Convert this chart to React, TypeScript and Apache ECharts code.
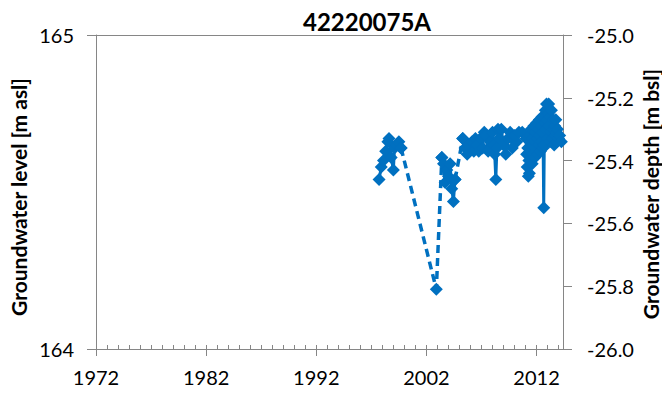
import React, { useEffect, useRef } from "react";
import * as echarts from "echarts";

const TITLE = "42220075A";
const LEFT_NAME = "Groundwater level [m asl]";
const RIGHT_NAME = "Groundwater depth [m bsl]";
const BLUE = "#0070C0";
const AXIS_GRAY = "#868686";

const majorYearTicks = [1972, 1982, 1992, 2002, 2012];
const minorYearTicks = [
  1972, 1973, 1974, 1975, 1976, 1977, 1978, 1979, 1980, 1981, 1982, 1983, 1984, 1985,
  1986, 1987, 1988, 1989, 1990, 1991, 1992, 1993, 1994, 1995, 1996, 1997, 1998, 1999,
  2000, 2001, 2002, 2003, 2004, 2005, 2006, 2007, 2008, 2009, 2010, 2011, 2012, 2013, 2014,
];

// Measurement clusters (decimal year, depth m bsl)
const cluster1Years = [1997.7, 1997.9, 1998.1, 1998.3, 1998.5, 1998.6, 1998.8, 1999.0, 1999.1, 1999.3, 1999.5, 1999.7];
const cluster1Depths = [-25.46, -25.42, -25.4, -25.37, -25.34, -25.33, -25.39, -25.43, -25.36, -25.35, -25.34, -25.36];

const cluster2Years = [2003.4, 2003.55, 2003.7, 2003.85, 2004.0, 2004.15, 2004.3, 2004.45, 2004.6];
const cluster2Depths = [-25.39, -25.41, -25.47, -25.43, -25.45, -25.41, -25.49, -25.53, -25.46];

const cluster3Years = [
  2005.3, 2005.5, 2005.7, 2005.85, 2006.0, 2006.15, 2006.3, 2006.45, 2006.6, 2006.75, 2006.9,
  2007.1, 2007.25, 2007.4, 2007.6, 2007.8, 2008.0, 2008.1,
  2008.2, 2008.3, 2008.4, 2008.5, 2008.6, 2008.8, 2009.0, 2009.2, 2009.4, 2009.6, 2009.8, 2010.0, 2010.2,
  2010.4, 2010.7,
  2011.05, 2011.1, 2011.15, 2011.2, 2011.25, 2011.3, 2011.35, 2011.4, 2011.45, 2011.5, 2011.55,
  2011.6, 2011.65, 2011.7, 2011.75, 2011.8, 2011.85, 2011.9, 2011.95, 2012.0, 2012.05, 2012.1,
  2012.15, 2012.2, 2012.25, 2012.3, 2012.35, 2012.4, 2012.45, 2012.5, 2012.55, 2012.6, 2012.65,
  2012.7, 2012.75, 2012.8, 2012.85, 2012.9, 2012.95, 2013.0, 2013.05, 2013.1, 2013.15, 2013.2,
  2013.25, 2013.3, 2013.35, 2013.4, 2013.45, 2013.5, 2013.55, 2013.6, 2013.65, 2013.7, 2013.75,
  2013.8, 2013.85, 2013.9, 2014.0, 2014.1, 2014.25,
];
const cluster3Depths = [
  -25.33, -25.36, -25.38, -25.35, -25.36, -25.34, -25.37, -25.33, -25.35, -25.37, -25.33,
  -25.36, -25.31, -25.32, -25.37, -25.34, -25.31, -25.35,
  -25.38, -25.46, -25.36, -25.3, -25.33, -25.3, -25.35, -25.38, -25.33, -25.31, -25.36, -25.32, -25.34,
  -25.31, -25.31,
  -25.33, -25.38, -25.42, -25.36, -25.45, -25.4, -25.44, -25.32, -25.37, -25.3, -25.35,
  -25.41, -25.33, -25.38, -25.29, -25.34, -25.39, -25.31, -25.36, -25.28, -25.33, -25.38,
  -25.3, -25.35, -25.27, -25.32, -25.37, -25.29, -25.34, -25.26, -25.31, -25.36, -25.55,
  -25.35, -25.28, -25.24, -25.3, -25.22, -25.27, -25.33, -25.25, -25.22, -25.29, -25.34,
  -25.26, -25.31, -25.24, -25.28, -25.33, -25.27, -25.3, -25.35, -25.29, -25.32, -25.27,
  -25.31, -25.34, -25.3, -25.33, -25.32, -25.34,
];

// Dashed connectors across long gaps
const gap1Years = [1999.7, 2002.9, 2003.4];
const gap1Depths = [-25.36, -25.81, -25.39];
const gap2Years = [2004.6, 2005.3];
const gap2Depths = [-25.46, -25.33];

const FONT = "Lato, 'Open Sans', sans-serif";

function pairs(xs: number[], ys: number[]) {
  return xs.map((x, i) => [x, ys[i]]);
}

export default function App() {
  const ref = useRef<HTMLDivElement>(null);
  useEffect(() => {
    if (!ref.current) return;
    const chart = echarts.init(ref.current, null, { renderer: "svg" });
    const solid = (xs: number[], ys: number[]) => ({
      type: "line",
      xAxisIndex: 0,
      yAxisIndex: 1,
      data: pairs(xs, ys),
      symbol: "diamond",
      symbolSize: 13,
      lineStyle: { color: BLUE, width: 3 },
      itemStyle: { color: BLUE },
      z: 3,
    });
    const dashed = (xs: number[], ys: number[]) => ({
      type: "line",
      xAxisIndex: 0,
      yAxisIndex: 1,
      data: pairs(xs, ys),
      symbol: "diamond",
      symbolSize: 13,
      lineStyle: { color: BLUE, width: 3.5, type: [8, 5] },
      itemStyle: { color: BLUE },
      z: 2,
    });
    chart.setOption({
      animation: false,
      backgroundColor: "#ffffff",
      title: {
        text: TITLE,
        left: 362,
        top: 4,
        textAlign: "center",
        textStyle: { fontFamily: FONT, fontWeight: "bold", fontSize: 24, color: "#000" },
      },
      grid: { left: 96, right: 99, top: 35, bottom: 50 },
      xAxis: [
        {
          type: "value",
          min: 1972,
          max: 2014.4,
          position: "bottom",
          axisLine: { show: true, lineStyle: { color: AXIS_GRAY, width: 1 } },
          axisTick: { show: true, inside: false, length: 7, lineStyle: { color: AXIS_GRAY }, customValues: majorYearTicks },
          axisLabel: {
            customValues: majorYearTicks,
            margin: 18,
            fontFamily: FONT,
            fontSize: 20,
            color: "#000",
            formatter: (v: number) => String(v),
          },
          splitLine: { show: false },
        },
        {
          type: "value",
          min: 1972,
          max: 2014.4,
          position: "bottom",
          axisLine: { show: false },
          axisTick: { show: true, inside: true, length: 4, lineStyle: { color: AXIS_GRAY }, customValues: minorYearTicks },
          axisLabel: { show: false },
          splitLine: { show: false },
        },
      ],
      yAxis: [
        {
          type: "value",
          position: "left",
          min: 164,
          max: 165,
          interval: 1,
          axisLine: { show: true, lineStyle: { color: AXIS_GRAY, width: 1 } },
          axisTick: { show: true, inside: false, length: 9, lineStyle: { color: AXIS_GRAY } },
          axisLabel: { margin: 22, fontFamily: FONT, fontSize: 20, color: "#000" },
          splitLine: { show: true, lineStyle: { color: AXIS_GRAY, width: 1 } },
        },
        {
          type: "value",
          position: "right",
          min: -26,
          max: -25,
          interval: 0.2,
          axisLine: { show: true, lineStyle: { color: AXIS_GRAY, width: 1 } },
          axisTick: { show: true, inside: false, length: 9, lineStyle: { color: AXIS_GRAY } },
          axisLabel: {
            margin: 24,
            fontFamily: FONT,
            fontSize: 20,
            color: "#000",
            formatter: (v: number) => v.toFixed(1),
          },
          splitLine: { show: false },
        },
      ],
      graphic: [
        {
          type: "text",
          x: 18,
          y: 197,
          rotation: Math.PI / 2,
          style: {
            text: LEFT_NAME,
            font: `bold 21px ${FONT}`,
            fill: "#000",
            textAlign: "center",
            textVerticalAlign: "middle",
          },
        },
        {
          type: "text",
          x: 650,
          y: 194,
          rotation: Math.PI / 2,
          style: {
            text: RIGHT_NAME,
            font: `bold 21px ${FONT}`,
            fill: "#000",
            textAlign: "center",
            textVerticalAlign: "middle",
          },
        },
      ],
      series: [
        dashed(gap1Years, gap1Depths),
        dashed(gap2Years, gap2Depths),
        solid(cluster1Years, cluster1Depths),
        solid(cluster2Years, cluster2Depths),
        solid(cluster3Years, cluster3Depths),
      ],
    });
    return () => chart.dispose();
  }, []);
  return <div ref={ref} style={{ width: 662, height: 399, position: "absolute", left: 0, top: 0 }} />;
}
